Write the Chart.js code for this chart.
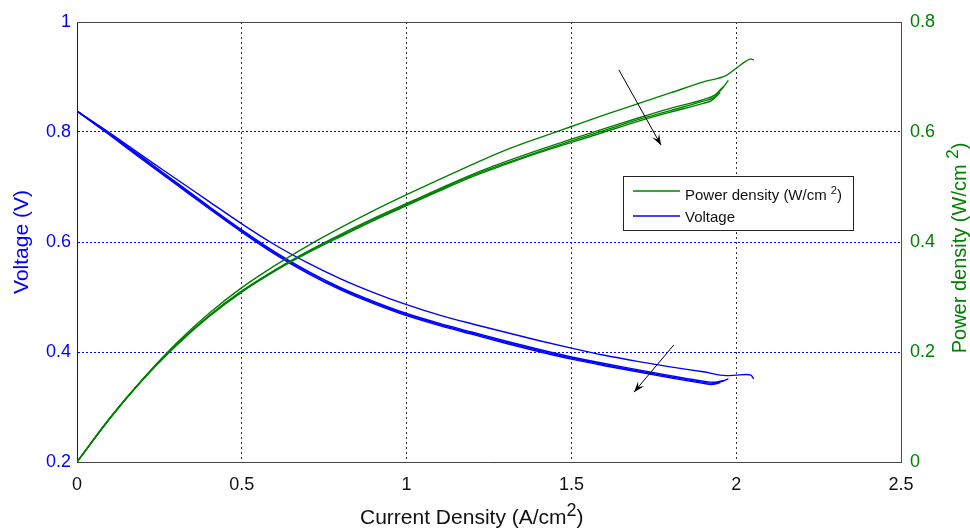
<!DOCTYPE html>
<html><head><meta charset="utf-8">
<script src="https://cdn.jsdelivr.net/npm/chart.js@4/dist/chart.umd.min.js"></script>
<style>html,body{margin:0;padding:0;background:#fff}</style>
</head><body>
<canvas id="c" width="970" height="528"></canvas>
<script>
// ---- data ----
const currentA = [0,0.1,0.2,0.3,0.4,0.5,0.6,0.7,0.8,0.9,1.0,1.1,1.2,1.3,1.4,1.5,1.6,1.7,1.8,1.9,1.97,2.0,2.03,2.045,2.052];
const voltageA = [0.838,0.798,0.756,0.715,0.674,0.633,0.595,0.562,0.533,0.508,0.486,0.467,0.451,0.436,0.421,0.407,0.394,0.383,0.373,0.364,0.357,0.358,0.359,0.358,0.352];
const powerA   = [0,0.080,0.151,0.215,0.270,0.317,0.357,0.393,0.426,0.457,0.486,0.514,0.541,0.567,0.589,0.610,0.631,0.651,0.671,0.691,0.703,0.716,0.729,0.733,0.731];

const currentB = [0,0.1,0.2,0.3,0.4,0.5,0.6,0.7,0.8,0.9,1.0,1.1,1.2,1.3,1.4,1.5,1.6,1.7,1.8,1.9,1.93,1.955,1.975];
const voltageB = [0.838,0.795,0.751,0.707,0.663,0.620,0.580,0.545,0.515,0.490,0.468,0.450,0.434,0.418,0.403,0.389,0.377,0.366,0.355,0.345,0.343,0.346,0.351];
const powerB   = [0,0.080,0.150,0.212,0.265,0.310,0.348,0.382,0.412,0.441,0.468,0.495,0.521,0.543,0.564,0.584,0.603,0.622,0.639,0.656,0.662,0.677,0.693];

const currentC = [0,0.1,0.2,0.3,0.4,0.5,0.6,0.7,0.8,0.9,1.0,1.1,1.2,1.3,1.4,1.5,1.6,1.7,1.8,1.9,1.925,1.95];
const voltageC = [0.838,0.794,0.749,0.705,0.661,0.618,0.578,0.543,0.513,0.488,0.466,0.448,0.432,0.416,0.401,0.387,0.375,0.364,0.353,0.343,0.341,0.344];
const powerC   = [0,0.079,0.150,0.211,0.264,0.309,0.347,0.380,0.410,0.439,0.466,0.493,0.519,0.541,0.562,0.581,0.600,0.619,0.636,0.652,0.657,0.671];

const currentD = [0,0.1,0.2,0.3,0.4,0.5,0.6,0.7,0.8,0.9,1.0,1.1,1.2,1.3,1.4,1.5,1.6,1.7,1.8,1.9,1.935,1.96];
const voltageD = [0.838,0.796,0.753,0.709,0.665,0.622,0.582,0.547,0.517,0.492,0.470,0.452,0.436,0.420,0.405,0.391,0.379,0.368,0.357,0.347,0.345,0.348];
const powerD   = [0,0.080,0.151,0.213,0.266,0.311,0.349,0.383,0.414,0.443,0.470,0.497,0.523,0.546,0.567,0.587,0.606,0.625,0.643,0.659,0.667,0.682];

const xTicks = [0,0.5,1,1.5,2,2.5];
const vTicks = [0.2,0.4,0.6,0.8,1];
const pTicks = [0,0.2,0.4,0.6,0.8];

// arrows (current, voltage-axis units)
const arrowStartI = [1.644, 1.811];
const arrowStartV = [0.913, 0.413];
const arrowEndI   = [1.772, 1.690];
const arrowEndV   = [0.776, 0.327];

// ---- build ----
const BLUE = '#0000ff', GREEN = '#008000';
const FONT = '"Liberation Sans", Arial, Helvetica, sans-serif';
function pts(xs, ys){ return xs.map((x,i)=>({x:x, y:ys[i]})); }
const series = [
  [currentA, voltageA, powerA],
  [currentB, voltageB, powerB],
  [currentC, voltageC, powerC],
  [currentD, voltageD, powerD]
];
const datasets = [];
series.forEach(s => {
  datasets.push({data: pts(s[0], s[2]), yAxisID:'y1', borderColor: GREEN, borderWidth:1.4, pointRadius:0, fill:false, cubicInterpolationMode:'monotone'});
});
series.forEach(s => {
  datasets.push({data: pts(s[0], s[1]), yAxisID:'y', borderColor: BLUE, borderWidth:1.4, pointRadius:0, fill:false, cubicInterpolationMode:'monotone'});
});

function drawSup(ctx, x, y, parts){
  let cx = x;
  parts.forEach(p => {
    ctx.font = p[1] + 'px ' + FONT;
    ctx.fillText(p[0], cx, y + p[2]);
    cx += ctx.measureText(p[0]).width;
  });
}
function widthOf(ctx, parts){
  let w = 0;
  parts.forEach(p => { ctx.font = p[1] + 'px ' + FONT; w += ctx.measureText(p[0]).width; });
  return w;
}

const decor = {
  id:'decor',
  afterDraw(chart){
    const ctx = chart.ctx, a = chart.chartArea;
    const xs = chart.scales.x, ys = chart.scales.y;
    ctx.save();
    // top border
    ctx.strokeStyle = '#444'; ctx.lineWidth = 1;
    ctx.beginPath(); ctx.moveTo(a.left, a.top + 0.5); ctx.lineTo(a.right, a.top + 0.5); ctx.stroke();

    // arrows
    ctx.strokeStyle = '#000'; ctx.fillStyle = '#000'; ctx.lineWidth = 1;
    for (let i = 0; i < arrowStartI.length; i++){
      const x0 = xs.getPixelForValue(arrowStartI[i]), y0 = ys.getPixelForValue(arrowStartV[i]);
      const x1 = xs.getPixelForValue(arrowEndI[i]), y1 = ys.getPixelForValue(arrowEndV[i]);
      const ang = Math.atan2(y1 - y0, x1 - x0);
      ctx.beginPath(); ctx.moveTo(x0, y0); ctx.lineTo(x1, y1); ctx.stroke();
      const L = 11, W = 4;
      const bx = x1 - L*Math.cos(ang), by = y1 - L*Math.sin(ang);
      ctx.beginPath();
      ctx.moveTo(x1, y1);
      ctx.lineTo(bx + W*Math.sin(ang), by - W*Math.cos(ang));
      ctx.lineTo(x1 - 0.6*L*Math.cos(ang), y1 - 0.6*L*Math.sin(ang));
      ctx.lineTo(bx - W*Math.sin(ang), by + W*Math.cos(ang));
      ctx.closePath(); ctx.fill();
    }

    // legend
    const lx = 623, ly = 176, lw = 230, lh = 54;
    ctx.fillStyle = '#fff'; ctx.fillRect(lx, ly, lw, lh);
    ctx.strokeStyle = '#222'; ctx.lineWidth = 1;
    ctx.strokeRect(lx + 0.5, ly + 0.5, lw, lh);
    ctx.lineWidth = 1.6;
    ctx.strokeStyle = GREEN; ctx.beginPath(); ctx.moveTo(633, 191); ctx.lineTo(680, 191); ctx.stroke();
    ctx.strokeStyle = BLUE; ctx.beginPath(); ctx.moveTo(633, 216); ctx.lineTo(680, 216); ctx.stroke();
    ctx.fillStyle = '#111'; ctx.textBaseline = 'alphabetic'; ctx.textAlign = 'left';
    drawSup(ctx, 685, 200, [['Power density (W/cm ', 15, 0], ['2', 11, -6], [')', 15, 0]]);
    ctx.font = '15px ' + FONT; ctx.fillText('Voltage', 685, 222);

    // x title
    ctx.fillStyle = '#111';
    drawSup(ctx, 360, 524, [['Current Density (A/cm', 21, 0], ['2', 18, -8], [')', 21, 0]]);

    // left title
    ctx.save();
    ctx.translate(28, 242); ctx.rotate(-Math.PI/2);
    ctx.font = '21px ' + FONT; ctx.fillStyle = BLUE; ctx.textAlign = 'center';
    ctx.fillText('Voltage (V)', 0, 0);
    ctx.restore();

    // right title
    ctx.save();
    ctx.translate(966, 248); ctx.rotate(-Math.PI/2);
    ctx.fillStyle = GREEN; ctx.textAlign = 'left';
    const rp = [['Power density (W/cm ', 20, 0], ['2', 17, -8], [')', 20, 0]];
    const rw = widthOf(ctx, rp);
    drawSup(ctx, -rw/2, 0, rp);
    ctx.restore();

    ctx.restore();
  }
};

new Chart(document.getElementById('c').getContext('2d'), {
  type: 'line',
  data: { datasets },
  options: {
    responsive: false, animation: false, devicePixelRatio: 1,
    layout: { padding: { top: 22, left: 0, right: 0, bottom: 0 } },
    plugins: { legend: { display: false }, tooltip: { enabled: false } },
    elements: { line: { borderCapStyle: 'round', borderJoinStyle: 'round' } },
    scales: {
      x: {
        type: 'linear', position: 'bottom', min: 0, max: 2.5,
        afterBuildTicks: s => { s.ticks = xTicks.map(v => ({value: v})); },
        afterFit: s => { s.height = 66; },
        ticks: { color: '#111', font: { family: FONT, size: 18 }, padding: 12, maxRotation: 0,
                 callback: v => String(v) },
        grid: { drawTicks: false, lineWidth: 1,
                color: c => (c.tick && (c.tick.value === 0 || c.tick.value === 2.5)) ? 'rgba(0,0,0,0)' : '#333' },
        border: { display: true, color: '#444', width: 1, dash: [2, 3] }
      },
      y: {
        type: 'linear', position: 'left', min: 0.2, max: 1,
        afterBuildTicks: s => { s.ticks = vTicks.map(v => ({value: v})); },
        afterFit: s => { s.width = 77; },
        ticks: { color: BLUE, font: { family: FONT, size: 18 }, padding: 6, callback: v => String(v) },
        grid: { drawTicks: false, lineWidth: 1,
                color: c => (c.tick && (c.tick.value === 0.2 || c.tick.value === 1)) ? 'rgba(0,0,0,0)' : BLUE },
        border: { display: true, color: BLUE, width: 1, dash: [2, 2] }
      },
      y1: {
        type: 'linear', position: 'right', min: 0, max: 0.8,
        afterBuildTicks: s => { s.ticks = pTicks.map(v => ({value: v})); },
        afterFit: s => { s.width = 69; },
        ticks: { color: GREEN, font: { family: FONT, size: 18 }, padding: 9, callback: v => String(v) },
        grid: { drawTicks: false, drawOnChartArea: false },
        border: { display: true, color: GREEN, width: 1 }
      }
    }
  },
  plugins: [decor]
});
</script>
</body></html>
